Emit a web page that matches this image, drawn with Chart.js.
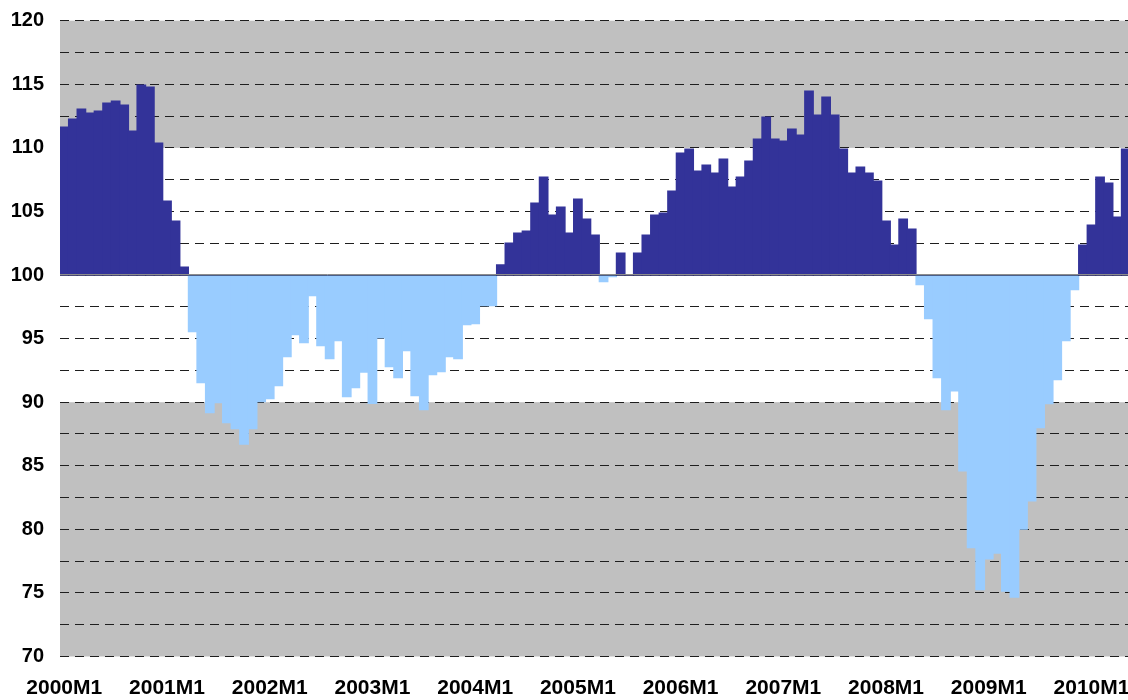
<!DOCTYPE html>
<html><head><meta charset="utf-8">
<script src="https://cdn.jsdelivr.net/npm/chart.js@4/dist/chart.umd.min.js"></script>
<style>html,body{margin:0;padding:0;overflow:hidden;background:#fff;width:1128px;height:700px}canvas{display:block}</style>
</head><body>
<canvas id="c" width="1140" height="700"></canvas>
<script>
// categories: monthly, 2000M1 .. 2010M5
const firstYear = 2000;
const monthCount = 125;
const categories = [];
for (let i = 0; i < monthCount; i++) categories.push((firstYear + Math.floor(i / 12)) + 'M' + (i % 12 + 1));

const tickLabels = ['2000M1','2001M1','2002M1','2003M1','2004M1','2005M1','2006M1','2007M1','2008M1','2009M1','2010M1'];

const values2000 = [111.63,112.26,113.05,112.74,112.89,113.52,113.68,113.36,111.32,114.94,114.78,110.38];
const values2001 = [105.82,104.25,100.63,95.54,91.53,89.18,89.96,88.39,87.92,86.69,87.92,90.04];
const values2002 = [90.28,91.30,93.58,95.31,94.68,98.37,94.44,93.42,94.84,90.44,91.14,92.37];
const values2003 = [89.91,95.05,92.80,91.93,94.05,90.51,89.41,92.16,92.40,93.58,93.42,96.09];
const values2004 = [96.17,97.59,97.59,100.79,102.52,103.30,103.46,105.66,107.70,104.72,105.35,103.30];
const values2005 = [105.97,104.40,103.14,99.48,99.87,101.73,100.00,101.73,103.14,104.72,104.87,106.60];
const values2006 = [109.59,109.91,108.18,108.65,108.02,109.12,106.92,107.70,108.96,110.69,112.42,110.69];
const values2007 = [110.53,111.48,111.01,114.47,112.58,113.99,112.58,109.91,108.02,108.49,108.02,107.39];
const values2008 = [104.25,102.36,104.40,103.62,99.24,96.57,91.93,89.41,90.88,84.59,78.56,75.26];
const values2009 = [77.67,78.12,75.13,74.66,80.01,82.23,88.00,89.88,91.77,94.84,98.85,102.36];
const values2010 = [103.93,107.70,107.23,104.56,109.91];

const values = [].concat(values2000, values2001, values2002, values2003, values2004, values2005,
  values2006, values2007, values2008, values2009, values2010);

const baseValue = 100;
const shadedBands = [[110, 120], [70, 90]];
const yMin = 70, yMax = 120, yStep = 2.5, yLabelStep = 5;

const colorAbove = '#333399';
const colorBelow = '#99ccff';

const bandsPlugin = {
  id: 'bands',
  beforeDraw(chart) {
    const {ctx, chartArea: a, scales: {y}} = chart;
    ctx.save();
    ctx.fillStyle = '#c0c0c0';
    for (const [lo, hi] of shadedBands) {
      const t = y.getPixelForValue(hi), b = y.getPixelForValue(lo);
      ctx.fillRect(a.left, t, a.right - a.left, b - t);
    }
    ctx.restore();
  },
  afterDatasetsDraw(chart) {
    const {ctx, chartArea: a, scales: {y}} = chart;
    const py = Math.round(y.getPixelForValue(baseValue));
    ctx.save();
    ctx.strokeStyle = '#8c8c8c';
    ctx.lineWidth = 1;
    ctx.beginPath(); ctx.moveTo(a.left, py - 0.5); ctx.lineTo(a.right, py - 0.5); ctx.stroke();
    ctx.strokeStyle = 'rgba(20,20,60,0.6)';
    ctx.beginPath(); ctx.moveTo(a.left, py + 0.5); ctx.lineTo(a.right, py + 0.5); ctx.stroke();
    ctx.restore();
  }
};

new Chart(document.getElementById('c'), {
  type: 'bar',
  data: {
    labels: categories,
    datasets: [{
      data: values.map(v => [baseValue, v]),
      backgroundColor: values.map(v => v >= baseValue ? colorAbove : colorBelow),
      borderWidth: 0,
      inflateAmount: 0.6,
      categoryPercentage: 1.0,
      barPercentage: 1.0
    }]
  },
  options: {
    responsive: false,
    animation: false,
    devicePixelRatio: 1,
    layout: {padding: {left: 0, right: 10, top: 20.7, bottom: 0}},
    plugins: {legend: {display: false}, tooltip: {enabled: false}},
    scales: {
      x: {
        grid: {display: false, drawTicks: false, tickLength: 0},
        border: {display: false},
        afterFit: s => { s.height = 43.5; s.paddingLeft = 0; s.paddingRight = 0; },
        ticks: {
          autoSkip: false, maxRotation: 0, minRotation: 0, padding: 19.5,
          color: '#000',
          font: {family: '"Liberation Sans", Arial, sans-serif', size: 21, weight: 'bold'},
          callback: (val, i) => tickLabels.includes(categories[i]) ? categories[i] : ''
        }
      },
      y: {
        min: yMin, max: yMax,
        afterFit: s => { s.width = 60; s.paddingTop = 0; s.paddingBottom = 0; },
        grid: {
          drawTicks: false, tickLength: 0, lineWidth: 1,
          color: c => (c.tick && c.tick.value === baseValue) ? 'rgba(0,0,0,0)' : '#1e1e1e'
        },
        border: {display: false, dash: [9, 6]},
        ticks: {
          stepSize: yStep, padding: 16, color: '#000',
          font: {family: '"Liberation Sans", Arial, sans-serif', size: 20, weight: 'bold'},
          callback: v => (Math.abs(v % yLabelStep) < 1e-6) ? v : ''
        }
      }
    }
  },
  plugins: [bandsPlugin]
});
</script>
</body></html>
